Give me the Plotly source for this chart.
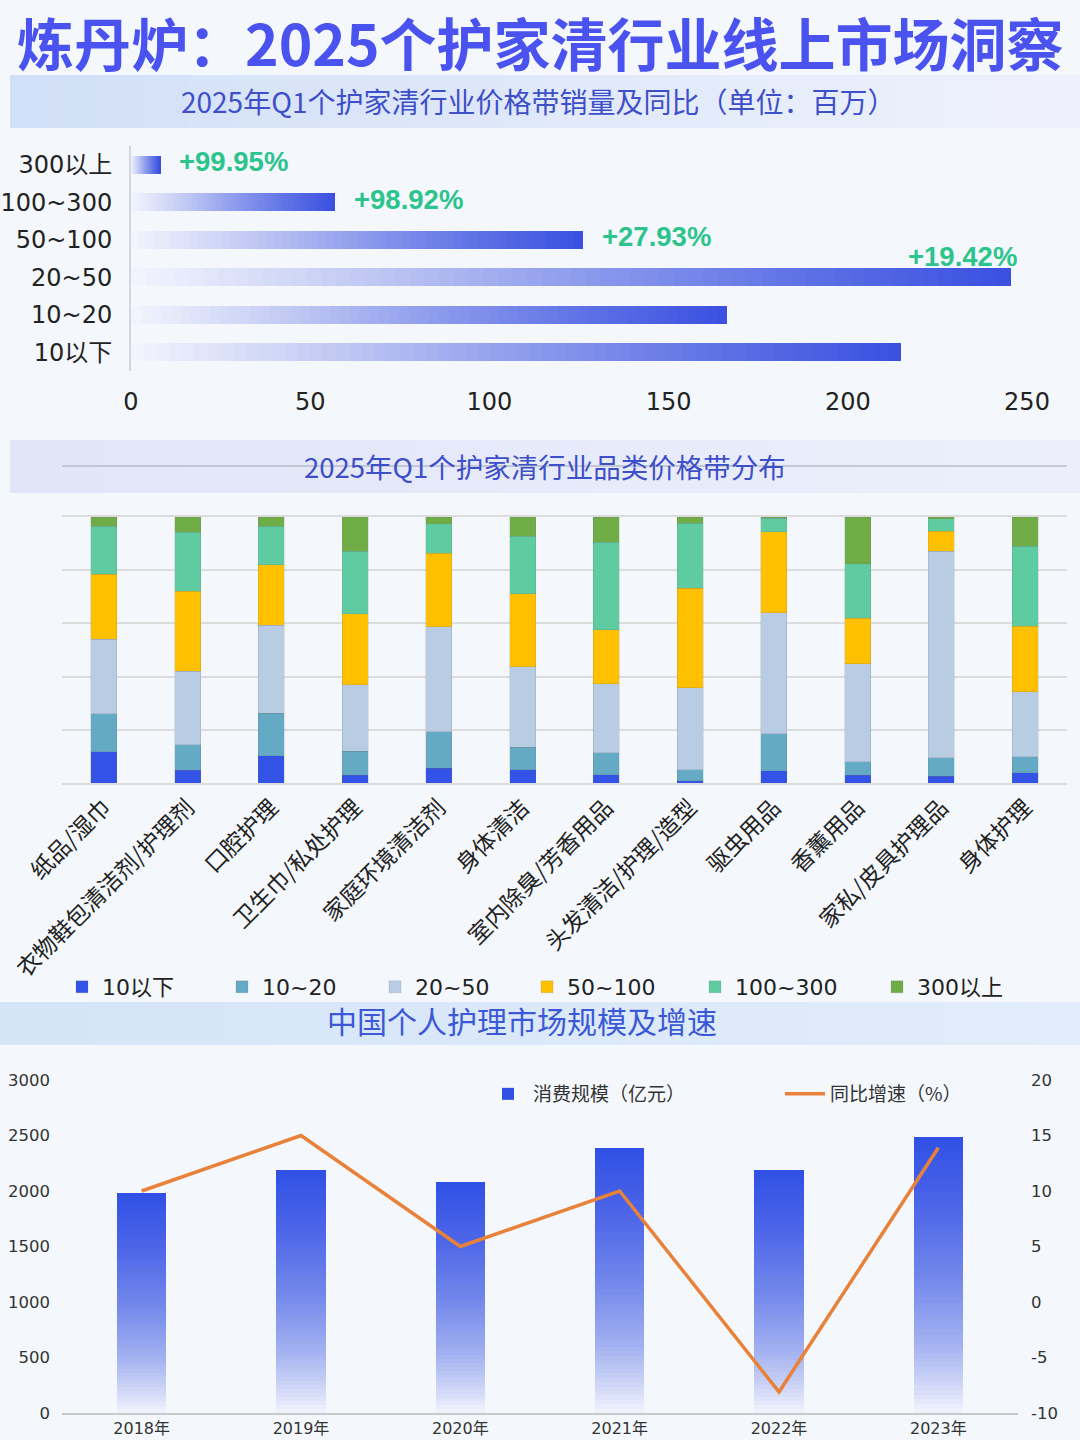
import plotly.graph_objects as go
from plotly.colors import sample_colorscale

# ---------------- data ----------------
# Chart 1: sales volume by price band (millions) and YoY
price_bands = ["300以上", "100~300", "50~100", "20~50", "10~20", "10以下"]
sales_mn = [8.2, 57.0, 126.0, 245.5, 166.3, 214.8]
yoy_labels = ["+99.95%", "+98.92%", "+27.93%", "+19.42%", "", ""]

# Chart 2: category price-band distribution (%)
categories = ["纸品/湿巾", "衣物鞋包清洁剂/护理剂", "口腔护理", "卫生巾/私处护理", "家庭环境清洁剂",
              "身体清洁", "室内除臭/芳香用品", "头发清洁/护理/造型", "驱虫用品", "香薰用品",
              "家私/皮具护理品", "身体护理"]
band_names = ["10以下", "10~20", "20~50", "50~100", "100~300", "300以上"]
share_lt10 = [11.7, 4.8, 10.2, 2.9, 5.6, 4.9, 3.1, 0.9, 4.6, 2.9, 2.5, 3.8]
share_10_20 = [14.3, 9.5, 16.0, 9.1, 13.6, 8.5, 8.2, 4.0, 14.0, 5.1, 7.0, 6.0]
share_20_50 = [28.0, 27.7, 33.1, 25.0, 39.5, 30.3, 26.1, 31.0, 45.4, 36.8, 77.6, 24.5]
share_50_100 = [24.4, 30.0, 22.8, 26.6, 27.6, 27.4, 20.2, 37.4, 30.5, 17.1, 7.6, 24.7]
share_100_300 = [18.2, 22.2, 14.5, 23.6, 11.2, 21.7, 33.0, 24.3, 5.0, 20.5, 4.7, 30.0]
share_300p = [3.4, 5.8, 3.4, 12.8, 2.5, 7.2, 9.4, 2.4, 0.5, 17.6, 0.6, 11.0]

# Chart 3: China personal care market size and growth
years = ["2018年", "2019年", "2020年", "2021年", "2022年", "2023年"]
market_size = [1985, 2190, 2080, 2385, 2190, 2485]
growth_pct = [10.0, 15.0, 5.0, 10.0, -8.1, 13.9]
size_ticks = [0, 500, 1000, 1500, 2000, 2500, 3000]
growth_ticks = [-10, -5, 0, 5, 10, 15, 20]

# ---------------- helpers ----------------
W, H = 1080, 1440
FONT = "Noto Sans CJK SC"
NUMFONT = "DejaVu Sans, Noto Sans CJK SC"


def px(xp):
    return xp / W


def py(yp):
    return 1 - yp / H


N = 60
cs_h = [[0, "rgb(243,245,253)"], [0.25, "rgb(196,204,244)"], [0.5, "rgb(143,157,237)"],
        [0.75, "rgb(96,116,230)"], [1, "rgb(58,79,224)"]]
cs_v = [[0, "rgb(242,244,253)"], [0.1, "rgb(208,215,246)"], [0.25, "rgb(163,177,240)"],
        [0.5, "rgb(113,134,235)"], [0.75, "rgb(77,102,232)"], [1, "rgb(48,80,230)"]]
cols_h = sample_colorscale(cs_h, [(i + 0.5) / N for i in range(N)])
cols_v = sample_colorscale(cs_v, [(i + 0.5) / N for i in range(N)])

fig = go.Figure()

# ---------------- chart 1 ----------------
for i in range(N):
    fig.add_trace(go.Bar(
        x=[v / N for v in sales_mn], y=price_bands, orientation="h",
        marker=dict(color=cols_h[i], line=dict(width=0)), width=0.48,
        xaxis="x", yaxis="y", showlegend=False, hoverinfo="skip"))

# ---------------- chart 2 ----------------
band_colors = ["#3352e6", "#65aac4", "#b8cce4", "#ffc000", "#5ecba1", "#70ad47"]
legend_widths = [115, 108, 107, 123, 137, 110]
shares = [share_lt10, share_10_20, share_20_50, share_50_100, share_100_300, share_300p]
for name, vals, c, lw in zip(band_names, shares, band_colors, legend_widths):
    fig.add_trace(go.Bar(
        x=categories, y=vals, name=name,
        marker=dict(color=c, line=dict(width=0.6, color="rgba(110,110,110,0.3)")),
        width=0.31, xaxis="x2", yaxis="y2", legend="legend", legendwidth=lw))

# ---------------- chart 3 ----------------
for i in range(N):
    fig.add_trace(go.Bar(
        x=years, y=[v / N for v in market_size], name="消费规模（亿元）",
        marker=dict(color=cols_v[i], line=dict(width=0)), width=0.31,
        xaxis="x3", yaxis="y3", showlegend=(i == N - 1), legend="legend2", legendwidth=242))
fig.add_trace(go.Scatter(
    x=years, y=growth_pct, name="同比增速（%）", mode="lines",
    line=dict(color="#e8823a", width=3.5), xaxis="x3", yaxis="y4", legend="legend2"))

# ---------------- decoration shapes ----------------
shapes = []


def band(x0, x1, y0, y1, c0, c1, strips=24):
    for k in range(strips):
        t = k / (strips - 1)
        c = tuple(round(a + (b - a) * t) for a, b in zip(c0, c1))
        xa = x0 + (x1 - x0) * k / strips
        xb = x0 + (x1 - x0) * (k + 1) / strips + 0.5
        shapes.append(dict(type="rect", xref="paper", yref="paper", layer="below",
                           x0=px(xa), x1=px(min(xb, x1)), y0=py(y1), y1=py(y0),
                           fillcolor="rgb(%d,%d,%d)" % c, line=dict(width=0)))


band(10, 1080, 75, 128, (210, 224, 247), (238, 241, 252))
band(10, 1080, 440, 493, (224, 229, 248), (236, 239, 251))
band(0, 1080, 1002, 1045, (212, 229, 248), (226, 236, 250))
shapes.append(dict(type="line", xref="paper", yref="paper", layer="below",
                   x0=px(62), x1=px(1067), y0=py(466), y1=py(466),
                   line=dict(color="#b9bdc9", width=1.5)))

# ---------------- annotations ----------------
ann = [
    dict(text="<b>炼丹炉：2025个护家清行业线上市场洞察</b>", x=px(540), y=py(41), xref="paper", yref="paper",
         showarrow=False, font=dict(family=FONT, size=57, color="#4a52ef"), xanchor="center", yanchor="middle"),
    dict(text="2025年Q1个护家清行业价格带销量及同比（单位：百万）", x=px(538), y=py(101), xref="paper", yref="paper",
         showarrow=False, font=dict(family=FONT, size=28, color="#3d4fc9"), xanchor="center", yanchor="middle"),
    dict(text="2025年Q1个护家清行业品类价格带分布", x=px(545), y=py(466), xref="paper", yref="paper",
         showarrow=False, font=dict(family=FONT, size=27.5, color="#3d4fc9"), xanchor="center", yanchor="middle"),
    dict(text="中国个人护理市场规模及增速", x=px(522), y=py(1020), xref="paper", yref="paper",
         showarrow=False, font=dict(family=FONT, size=30, color="#3b59d6"), xanchor="center", yanchor="middle"),
]
xmax1 = 250
for b, v, lab in zip(price_bands, sales_mn, yoy_labels):
    if not lab:
        continue
    above = v > 0.9 * xmax1
    ann.append(dict(text="<b>%s</b>" % lab, x=v, y=b, xref="x", yref="y", showarrow=False,
                    xanchor="right" if above else "left", yanchor="middle",
                    xshift=8 if above else 17, yshift=21 if above else 3,
                    font=dict(family="Liberation Sans, Arial", size=27.5, color="#2cc48c")))

# ---------------- layout ----------------
axis_font = dict(family=NUMFONT, size=24, color="#222222")
small_font = dict(family=NUMFONT, size=16.5, color="#333333")
fig.update_layout(
    width=W, height=H, margin=dict(l=0, r=0, t=0, b=0),
    paper_bgcolor="#f4f8fc", plot_bgcolor="rgba(0,0,0,0)",
    barmode="stack", bargap=0.5,
    font=dict(family=FONT, color="#222222"),
    shapes=shapes, annotations=ann,
    xaxis=dict(domain=[px(131), px(1027)], anchor="y", range=[0, 250], tickvals=[0, 50, 100, 150, 200, 250],
               showgrid=False, zeroline=False, showline=False, ticks="", tickfont=axis_font,
               ticklabelstandoff=14, automargin=False, fixedrange=True),
    yaxis=dict(domain=[py(371), py(146)], anchor="x", type="category", categoryorder="array",
               categoryarray=price_bands, autorange="reversed", showgrid=False, zeroline=False,
               showline=True, linecolor="#d2d6de", linewidth=2, ticks="", tickfont=axis_font,
               ticklabelstandoff=12, automargin=False),
    xaxis2=dict(domain=[px(62), px(1067)], anchor="y2", type="category", tickangle=-45, ticks="",
                showgrid=False, zeroline=False, showline=True, mirror=True, linecolor="#dcdcdc", linewidth=2,
                tickfont=dict(family=FONT, size=23, color="#222222"), automargin=False),
    yaxis2=dict(domain=[py(783), py(517)], anchor="x2", range=[0, 100], dtick=20, showgrid=True,
                gridcolor="#dcdcdc", gridwidth=2, zeroline=False, showticklabels=False, automargin=False),
    xaxis3=dict(domain=[px(62), px(1018)], anchor="y3", type="category", ticks="", showgrid=False,
                zeroline=False, showline=True, linecolor="#c8c8c8", linewidth=2,
                tickfont=dict(family=NUMFONT, size=16, color="#333333"), ticklabelstandoff=0,
                automargin=False),
    yaxis3=dict(domain=[py(1413), py(1080)], anchor="x3", range=[0, 3000], tickvals=size_ticks,
                ticktext=[str(v) for v in size_ticks], showgrid=False,
                zeroline=False, showline=False, ticks="", tickfont=small_font, ticklabelstandoff=11,
                automargin=False),
    yaxis4=dict(overlaying="y3", side="right", anchor="x3", range=[-10, 20], tickvals=growth_ticks,
                ticktext=[str(v) for v in growth_ticks], showgrid=False,
                zeroline=False, showline=False, ticks="", tickfont=small_font, ticklabelstandoff=12,
                automargin=False),
    legend=dict(orientation="h", x=px(62), y=py(987), xanchor="left", yanchor="middle",
                traceorder="normal", bgcolor="rgba(0,0,0,0)",
                font=dict(family=NUMFONT, size=22, color="#222222")),
    legend2=dict(orientation="h", x=px(483), y=py(1094), xanchor="left", yanchor="middle",
                 traceorder="normal", bgcolor="rgba(0,0,0,0)", itemwidth=40,
                 font=dict(family=FONT, size=19, color="#333333")),
)

fig.write_html("out.html")
